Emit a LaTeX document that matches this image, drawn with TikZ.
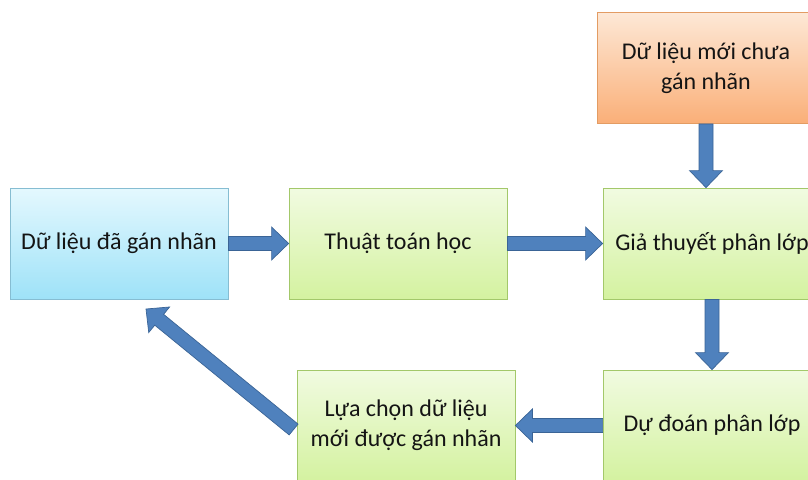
\documentclass[tikz,border=0pt]{standalone}
\usepackage{fontspec}
\setmainfont{Carlito}
\usetikzlibrary{calc}
\definecolor{arrowfill}{HTML}{4F81BD}
\definecolor{arrowline}{HTML}{3A6496}
\definecolor{greentop}{HTML}{F1FBE1}
\definecolor{greenbot}{HTML}{D4F2A0}
\definecolor{greenline}{HTML}{A3C86A}
\definecolor{bluetop}{HTML}{E4F8FE}
\definecolor{bluebot}{HTML}{9EE2F8}
\definecolor{blueline}{HTML}{86BDD2}
\definecolor{orangetop}{HTML}{FDE8D6}
\definecolor{orangebot}{HTML}{FAAF78}
\definecolor{orangeline}{HTML}{E39C63}
\tikzset{
  stage/.style={rectangle, minimum width=218pt, minimum height=111pt, inner sep=0pt,
    align=center, font=\fontsize{24}{30}\selectfont, text=black!92, line width=0.8pt},
  greenbox/.style={stage, draw=greenline, top color=greentop, bottom color=greenbot},
  bluebox/.style={stage, draw=blueline, top color=bluetop, bottom color=bluebot},
  orangebox/.style={stage, draw=orangeline, top color=orangetop, bottom color=orangebot},
  blockarrow/.style={draw=arrowline, fill=arrowfill, line width=0.7pt, line join=miter,
    to path={let \p1=(\tikztostart), \p2=(\tikztotarget),
      \n1={atan2(\y2-\y1,\x2-\x1)}, \n2={veclen(\x2-\x1,\y2-\y1)} in
      ([shift={(\p1)},rotate=\n1]0pt,7pt)
      -- ([shift={(\p1)},rotate=\n1]{\n2*1pt-17pt},7pt)
      -- ([shift={(\p1)},rotate=\n1]{\n2*1pt-17pt},16.5pt)
      -- ([shift={(\p1)},rotate=\n1]{\n2*1pt},0pt)
      -- ([shift={(\p1)},rotate=\n1]{\n2*1pt-17pt},-16.5pt)
      -- ([shift={(\p1)},rotate=\n1]{\n2*1pt-17pt},-7pt)
      -- ([shift={(\p1)},rotate=\n1]0pt,-7pt) -- cycle}}
}

\begin{document}
\begin{tikzpicture}[x=1pt, y=-1pt]
  \useasboundingbox (0,0) rectangle (808,479);
  \clip (0,0) rectangle (808,479);
  \node[bluebox] (labeled) at (119,243.5) {Dữ liệu đã gán nhãn};
  \node[greenbox] (learner) at (398,243.5) {Thuật toán học};
  \node[greenbox] (hypothesis) at (712,243.5) {Giả thuyết phân lớp};
  \node[orangebox] (unlabeled) at (706,68) {Dữ liệu mới chưa\\gán nhãn};
  \node[greenbox] (select) at (406,425.5) {Lựa chọn dữ liệu\\mới được gán nhãn};
  \node[greenbox] (predict) at (712,425.5) {Dự đoán phân lớp};
  \coordinate (back) at (146,309);
  \draw[blockarrow] (labeled.east) to (learner.west);
  \draw[blockarrow] (learner.east) to (hypothesis.west);
  \draw[blockarrow] (unlabeled.south) to (unlabeled.south |- hypothesis.north);
  \draw[blockarrow] (hypothesis.south) to (predict.north);
  \draw[blockarrow] (predict.west) to (select.west -| select.east);
  \draw[blockarrow] ($(select.west)+(-3,4)$) to (back);
\end{tikzpicture}
\end{document}
